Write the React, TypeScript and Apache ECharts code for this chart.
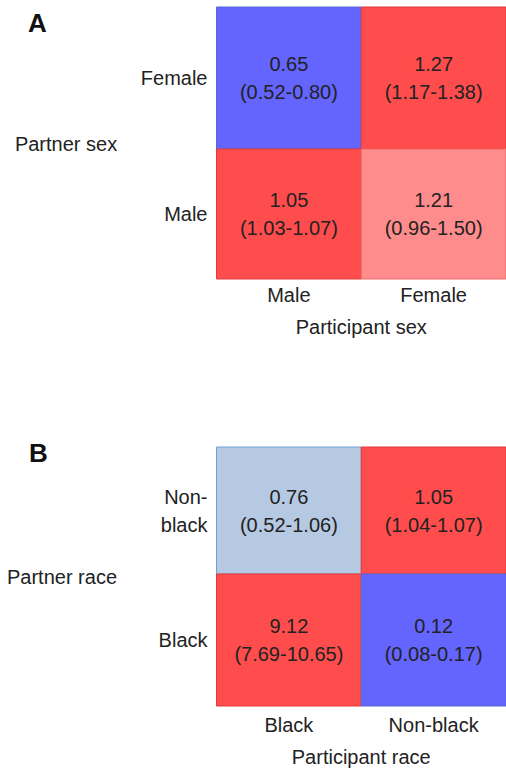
import React, { useEffect, useRef } from "react";
import * as echarts from "echarts";

// Panel A: participant sex (columns) x partner sex (rows, top to bottom)
const sexParticipant = ["Male", "Female"];
const sexPartner = ["Female", "Male"];
const sexOR = [
  [0.65, 1.27],
  [1.05, 1.21],
];
const sexLo = [
  [0.52, 1.17],
  [1.03, 0.96],
];
const sexHi = [
  [0.8, 1.38],
  [1.07, 1.5],
];

// Panel B: participant race (columns) x partner race (rows, top to bottom)
const raceParticipant = ["Black", "Non-black"];
const racePartner = ["Non-\nblack", "Black"];
const raceOR = [
  [0.76, 1.05],
  [9.12, 0.12],
];
const raceLo = [
  [0.52, 1.04],
  [7.69, 0.08],
];
const raceHi = [
  [1.06, 1.07],
  [10.65, 0.17],
];

const FONT = "Liberation Sans, Arial, Helvetica, sans-serif";
const TEXT = "#222";

function cellStyle(or: number, lo: number, hi: number) {
  if (lo > 1) return { fill: "#ff4d4d", stroke: "#e23a3a" };
  if (hi < 1) return { fill: "#6464ff", stroke: "#5a66d6" };
  if (or >= 1) return { fill: "#ff8c8c", stroke: "#f06a6a" };
  return { fill: "#b6c9e2", stroke: "#6f9fd8" };
}

const f = (v: number) => v.toFixed(2);

export default function App() {
  const ref = useRef<HTMLDivElement>(null);
  useEffect(() => {
    document.body.style.margin = "0";
    const chart = echarts.init(ref.current!, null, { renderer: "svg" });

    const left = 216.5;
    const width = 302;
    const rows = [
      { top: 7, height: 142 },
      { top: 149, height: 130 },
      { top: 447, height: 127 },
      { top: 574, height: 132 },
    ];
    const panels = [
      { cols: sexParticipant, rowsCat: sexPartner, or: sexOR, lo: sexLo, hi: sexHi, xName: "Participant sex", nameGap: 38, labelMargin: 6 },
      { cols: raceParticipant, rowsCat: racePartner, or: raceOR, lo: raceLo, hi: raceHi, xName: "Participant race", nameGap: 41, labelMargin: 9 },
    ];

    const renderItem = (params: any, api: any) => {
      const ci = api.value(0);
      const or = api.value(2);
      const lo = api.value(3);
      const hi = api.value(4);
      const c = api.coord([ci, 0]);
      const s = api.size([1, 1]);
      const st = cellStyle(or, lo, hi);
      return {
        type: "group",
        children: [
          {
            type: "rect",
            shape: { x: c[0] - s[0] / 2, y: c[1] - s[1] / 2, width: s[0], height: s[1] },
            style: { fill: st.fill, stroke: st.stroke, lineWidth: 1 },
          },
          {
            type: "text",
            x: c[0],
            y: c[1],
            style: {
              text: `${f(or)}\n(${f(lo)}-${f(hi)})`,
              fontSize: 20,
              lineHeight: 28,
              fill: TEXT,
              fontFamily: FONT,
              align: "center",
              verticalAlign: "middle",
            },
          },
        ],
      };
    };

    const grid: any[] = [];
    const xAxis: any[] = [];
    const yAxis: any[] = [];
    const series: any[] = [];
    let gi = 0;
    panels.forEach((p) => {
      p.rowsCat.forEach((rowName, ri) => {
        const r = rows[gi];
        const isBottom = ri === p.rowsCat.length - 1;
        grid.push({ left, top: r.top, width, height: r.height });
        xAxis.push({
          type: "category",
          gridIndex: gi,
          data: p.cols,
          axisLine: { show: false },
          axisTick: { show: false },
          splitLine: { show: false },
          axisLabel: {
            show: isBottom,
            margin: p.labelMargin,
            fontSize: 20,
            color: TEXT,
            fontFamily: FONT,
          },
          name: isBottom ? p.xName : "",
          nameLocation: "middle",
          nameGap: p.nameGap,
          nameTextStyle: { fontSize: 20, color: TEXT, fontFamily: FONT, verticalAlign: "top" },
        });
        yAxis.push({
          type: "category",
          gridIndex: gi,
          data: [rowName],
          axisLine: { show: false },
          axisTick: { show: false },
          splitLine: { show: false },
          axisLabel: {
            margin: 9,
            fontSize: 20,
            lineHeight: 28,
            color: TEXT,
            fontFamily: FONT,
          },
        });
        series.push({
          type: "custom",
          xAxisIndex: gi,
          yAxisIndex: gi,
          renderItem,
          data: p.cols.map((_, ci) => [ci, 0, p.or[ri][ci], p.lo[ri][ci], p.hi[ri][ci]]),
          silent: true,
        });
        gi++;
      });
    });

    chart.setOption({
      animation: false,
      grid,
      xAxis,
      yAxis,
      series,
      graphic: [
        { type: "text", left: 28, top: 10, style: { text: "A", fontSize: 26, fontWeight: "bold", fill: "#111", fontFamily: FONT } },
        { type: "text", left: 29, top: 440, style: { text: "B", fontSize: 26, fontWeight: "bold", fill: "#111", fontFamily: FONT } },
        { type: "text", x: 66, y: 144, style: { text: "Partner sex", fontSize: 20, fill: TEXT, fontFamily: FONT, textAlign: "center", textVerticalAlign: "middle" } },
        { type: "text", x: 62, y: 577, style: { text: "Partner race", fontSize: 20, fill: TEXT, fontFamily: FONT, textAlign: "center", textVerticalAlign: "middle" } },
      ],
    });
    return () => chart.dispose();
  }, []);
  return <div ref={ref} style={{ width: 506, height: 771 }} />;
}
